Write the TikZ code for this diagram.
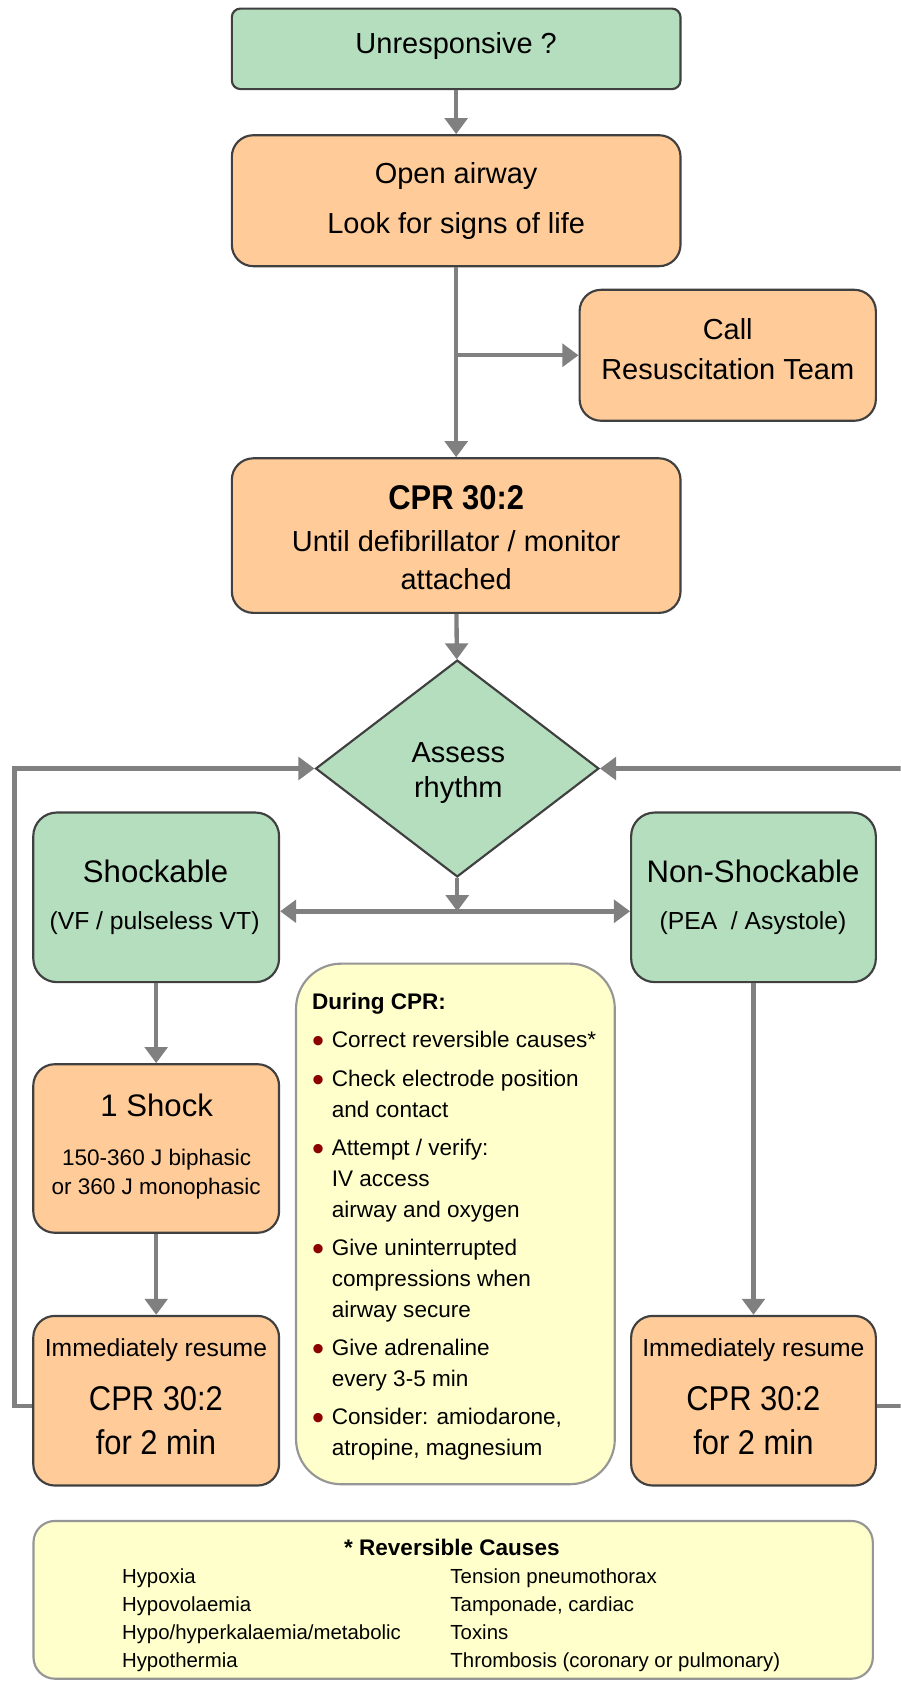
\documentclass[tikz,border=0pt]{standalone}
\usepackage{fontspec}
\setmainfont{Liberation Sans}
\usetikzlibrary{arrows.meta,shapes.geometric}
\definecolor{boxgreen}{RGB}{180,222,190}
\definecolor{boxorange}{RGB}{255,204,153}
\definecolor{boxyellow}{RGB}{255,255,204}
\definecolor{edgegray}{RGB}{64,64,64}
\definecolor{yedge}{RGB}{150,150,150}
\definecolor{conngray}{RGB}{128,128,128}
\definecolor{bulletred}{RGB}{140,0,0}
\newcommand\fsz[1]{\fontsize{#1}{#1}\selectfont}
\newcommand\cond[1]{\scalebox{0.9}[1]{#1}}
\newcommand\bul{\makebox[18.5pt][l]{\textcolor{bulletred}{\raisebox{-4.5pt}{\fontsize{32}{32}\selectfont\textbullet}}}}
\newcommand\cnt{\hspace*{18.5pt}}
\tikzset{
  boxbase/.style={draw=edgegray, line width=2pt, inner sep=0pt, rounded corners=20pt},
  greenbox/.style={boxbase, fill=boxgreen},
  orangebox/.style={boxbase, fill=boxorange},
  yellowbox/.style={draw=yedge, line width=2pt, fill=boxyellow, inner sep=0pt},
  lbl/.style={anchor=base, inner sep=0pt},
  conn/.style={draw=conngray, line width=4pt, -{Triangle[length=15pt,width=21pt]}},
}
\begin{document}
\begin{tikzpicture}[x=1pt,y=-1pt]
\useasboundingbox (0,0) rectangle (839,1568);
\fill[white] (0,0) rectangle (839,1568);
\clip (0,0) rectangle (839,1568);

% boxes
\node[greenbox, rounded corners=8pt, minimum width=418pt, minimum height=75pt] (unresp) at (425,45.5) {};
\node[orangebox, minimum width=418pt, minimum height=122pt] (airway) at (425,187) {};
\node[orangebox, minimum width=276pt, minimum height=122pt] (call) at (678,331) {};
\node[orangebox, minimum width=418pt, minimum height=144pt] (cpr) at (425,499) {};
\node[diamond, draw=edgegray, fill=boxgreen, line width=2pt, inner sep=0pt, aspect=1.3,
      minimum width=264pt, minimum height=202pt] (assess) at (426,716) {};
\node[greenbox, rounded corners=22pt, minimum width=229pt, minimum height=158pt] (shock) at (145.5,836) {};
\node[greenbox, rounded corners=22pt, minimum width=228pt, minimum height=158pt] (nonshock) at (702,836) {};
\node[orangebox, minimum width=229pt, minimum height=157pt] (oneshock) at (145.5,1070) {};
\node[orangebox, minimum width=229pt, minimum height=158pt] (immL) at (145.5,1305) {};
\node[orangebox, minimum width=228pt, minimum height=158pt] (immR) at (702,1305) {};
\node[yellowbox, rounded corners=42pt, minimum width=297pt, minimum height=485pt] (during) at (424.3,1140.3) {};
\node[yellowbox, rounded corners=20pt, minimum width=782pt, minimum height=147pt] (causes) at (422.2,1490.5) {};

% connectors
\coordinate (hline) at (0,849);
\coordinate (loopy) at (0,1310);
\coordinate (branch) at (airway.south |- call.west);
\coordinate (split) at (assess.south |- hline);
\draw[conn] (unresp) -- (airway);
\draw[conn] (airway) -- (cpr);
\draw[conn] (branch) -- (call.west);
\draw[conn] (cpr) -- (assess);
\draw[conn] (assess.south) -- (split);
\draw[conn, line width=5pt] (split) -- (split -| shock.east);
\draw[conn, line width=5pt] (split) -- (split -| nonshock.west);
\draw[conn] (shock) -- (oneshock);
\draw[conn] (oneshock) -- (immL);
\draw[conn] (nonshock) -- (immR);
\draw[conn] (immL.west |- loopy) -- ++(-16.6,0) |- (assess.west);
\draw[conn] (immR.east |- loopy) -- ++(60,0) |- (assess.east);

% texts
\node[lbl, font=\fsz{27}] (t-unresp) at (425,50.3) {Unresponsive ?};
\node[lbl, font=\fsz{27}] (t-air1) at (425,171.3) {Open airway};
\node[lbl, font=\fsz{27}] (t-air2) at (425,218) {Look for signs of life};
\node[lbl, font=\fsz{27}] (t-call1) at (678,316.6) {Call};
\node[lbl, font=\fsz{27}] (t-call2) at (678,354) {Resuscitation Team};
\node[lbl, font=\bfseries\fsz{32}] (t-cpr1) at (425,475) {\cond{CPR 30:2}};
\node[lbl, font=\fsz{27}] (t-cpr2) at (425,513.7) {Until defibrillator / monitor};
\node[lbl, font=\fsz{27}] (t-cpr3) at (425,548.8) {attached};
\node[lbl, font=\fsz{27}] (t-as1) at (427,710) {Assess};
\node[lbl, font=\fsz{27}] (t-as2) at (427,742.7) {rhythm};
\node[lbl, font=\fsz{29}] (t-sh1) at (145,822.5) {Shockable};
\node[lbl, font=\fsz{23}] (t-sh2) at (144,866) {(VF / pulseless VT)};
\node[lbl, font=\fsz{29}] (t-ns1) at (701.5,822.5) {Non-Shockable};
\node[lbl, font=\fsz{23}] (t-ns2) at (701.5,866) {(PEA\ \ / Asystole)};
\node[lbl, font=\fsz{29}] (t-os1) at (146,1040) {1 Shock};
\node[lbl, font=\fsz{21}] (t-os2) at (146,1086) {150-360 J biphasic};
\node[lbl, font=\fsz{21}] (t-os3) at (145.5,1112.5) {or 360 J monophasic};
\node[lbl, font=\fsz{23}] (t-il1) at (145.3,1264) {Immediately resume};
\node[lbl, font=\fsz{32}] (t-il2) at (145.3,1314.5) {\cond{CPR 30:2}};
\node[lbl, font=\fsz{32}] (t-il3) at (145.3,1355) {\cond{for 2 min}};
\node[lbl, font=\fsz{23}] (t-ir1) at (701.9,1264) {Immediately resume};
\node[lbl, font=\fsz{32}] (t-ir2) at (701.9,1314.5) {\cond{CPR 30:2}};
\node[lbl, font=\fsz{32}] (t-ir3) at (701.9,1355) {\cond{for 2 min}};

\node[anchor=north west, inner sep=0pt, align=left, font=\fontsize{21}{28.7}\selectfont] (t-during) at (290.5,920)
{\rule{0pt}{20pt}\textbf{During CPR:}\\[7.3pt]
\bul Correct reversible causes*\\[7.1pt]
\bul Check electrode position\\
\cnt and contact\\[7.1pt]
\bul Attempt / verify:\\
\cnt IV access\\
\cnt airway and oxygen\\[7.1pt]
\bul Give uninterrupted\\
\cnt compressions when\\
\cnt airway secure\\[7.1pt]
\bul Give adrenaline\\
\cnt every 3-5 min\\[7.1pt]
\bul Consider: amiodarone,\\
\cnt atropine, magnesium};

\node[lbl, font=\bfseries\fsz{21}] (t-causes) at (421,1449) {* Reversible Causes};
\node[anchor=north west, inner sep=0pt, align=left, font=\fontsize{19}{26.1}\selectfont] (t-cleft) at (113.5,1459)
{\rule{0pt}{16pt}Hypoxia\\Hypovolaemia\\Hypo/hyperkalaemia/metabolic\\Hypothermia};
\node[anchor=north west, inner sep=0pt, align=left, font=\fontsize{19}{26.1}\selectfont] (t-cright) at (419.5,1459)
{\rule{0pt}{16pt}Tension pneumothorax\\Tamponade, cardiac\\Toxins\\Thrombosis (coronary or pulmonary)};
\end{tikzpicture}
\end{document}
